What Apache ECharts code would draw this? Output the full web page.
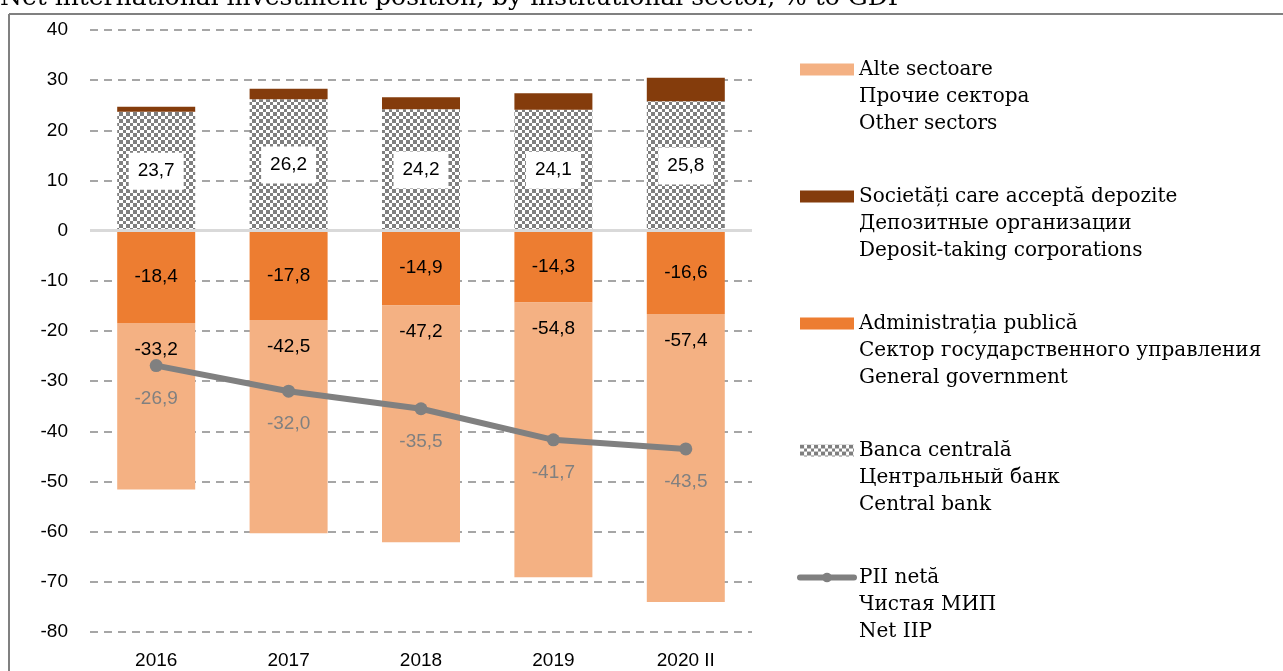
<!DOCTYPE html>
<html>
<head>
<meta charset="utf-8">
<script src="https://cdn.jsdelivr.net/npm/echarts@6/dist/echarts.min.js"></script>
<style>
  html, body { margin: 0; padding: 0; background: #fff; }
  #chart { width: 1283px; height: 671px; }
</style>
</head>
<body>
<div id="chart"></div>
<script>
// categorii / periods
var categories = ["2016", "2017", "2018", "2019", "2020 II"];
// % to GDP
var centralBank = [23.7, 26.2, 24.2, 24.1, 25.8];
var depositTaking = [1.0, 2.1, 2.4, 3.3, 4.7];
var generalGov = [-18.4, -17.8, -14.9, -14.3, -16.6];
var otherSectors = [-33.2, -42.5, -47.2, -54.8, -57.4];
var netIIP = [-26.9, -32.0, -35.5, -41.7, -43.5];

var names = [
    "Alte sectoare\nПрочие сектора\nOther sectors",
    "Societăți care acceptă depozite\nДепозитные организации\nDeposit-taking corporations",
    "Administrația publică\nСектор государственного управления\nGeneral government",
    "Banca centrală\nЦентральный банк\nCentral bank",
    "PII netă\nЧистая МИП\nNet IIP"
];

var numFont = "'Liberation Sans Narrow', 'Liberation Sans', sans-serif";
var serifFont = "'DejaVu Serif', serif";

// fundal in carouri pentru banca centrala
function checker() {
    var c = document.createElement("canvas");
    c.width = 7; c.height = 7;
    var ctx = c.getContext("2d");
    ctx.fillStyle = "#ffffff";
    ctx.fillRect(0, 0, 7, 7);
    ctx.fillStyle = "#7f7f7f";
    ctx.fillRect(0, 0, 4, 4);
    ctx.fillRect(4, 4, 3, 3);
    return c;
}

function fmt(v) {
    return v.toFixed(1).replace(".", ",");
}

var myChart = echarts.init(document.getElementById("chart"));
var option = {
    animation: false,
    title: {
        text: "Net international investment position, by institutional sector, % to GDP",
        left: 0,
        top: -14,
        padding: 0,
        textStyle: { fontFamily: serifFont, fontWeight: "normal", fontSize: 25, color: "#000" }
    },
    graphic: [
        { type: "line", shape: { x1: 9, y1: 14, x2: 1283, y2: 14 }, style: { stroke: "#808080", lineWidth: 2 } },
        { type: "line", shape: { x1: 9, y1: 14, x2: 9, y2: 671 }, style: { stroke: "#808080", lineWidth: 2 } }
    ],
    grid: { left: 90, right: 531, top: 30, bottom: 39 },
    legend: {
        orient: "vertical",
        left: 797,
        top: 2,
        padding: 0,
        itemWidth: 54,
        itemHeight: 12,
        itemGap: -8,
        data: [
            { name: names[0], icon: "rect" },
            { name: names[1], icon: "rect" },
            { name: names[2], icon: "rect" },
            { name: names[3], icon: "rect" },
            { name: names[4], itemStyle: { color: "#808080" }, lineStyle: { width: 6, cap: "round" } }
        ],
        // doua randuri goale ca iconita sa stea la primul rand
        formatter: function (name) { return "\n\n" + name; },
        textStyle: {
            fontFamily: serifFont,
            fontSize: 20,
            lineHeight: 27,
            color: "#000"
        }
    },
    xAxis: {
        type: "category",
        data: categories,
        axisLine: { show: false },
        axisTick: { show: false },
        axisLabel: { fontFamily: numFont, fontSize: 19, color: "#000", margin: 19 }
    },
    yAxis: {
        type: "value",
        min: -80,
        max: 40,
        interval: 10,
        axisLine: { show: false },
        axisTick: { show: false },
        axisLabel: { fontFamily: numFont, fontSize: 19, color: "#000", margin: 22 },
        splitLine: { lineStyle: { color: "#a6a6a6", width: 2, type: [8, 6] } }
    },
    series: [
        {
            name: names[3],
            type: "bar",
            stack: "s",
            barWidth: 78,
            data: centralBank,
            itemStyle: { color: { image: checker(), repeat: "repeat" } },
            label: {
                show: true,
                position: "inside",
                formatter: function (p) { return fmt(p.value); },
                fontFamily: numFont,
                fontSize: 19,
                color: "#000",
                backgroundColor: "#fff",
                padding: [9, 9]
            },
            markLine: {
                silent: true,
                symbol: "none",
                label: { show: false },
                lineStyle: { color: "#d9d9d9", width: 3, type: "solid" },
                data: [{ yAxis: 0 }]
            }
        },
        {
            name: names[1],
            type: "bar",
            stack: "s",
            data: depositTaking,
            itemStyle: { color: "#843c0c" }
        },
        {
            name: names[2],
            type: "bar",
            stack: "s",
            data: generalGov,
            itemStyle: { color: "#ed7d31" },
            label: {
                show: true,
                position: "inside",
                formatter: function (p) { return fmt(p.value); },
                fontFamily: numFont,
                fontSize: 19,
                color: "#000"
            }
        },
        {
            name: names[0],
            type: "bar",
            stack: "s",
            data: otherSectors,
            itemStyle: { color: "#f4b183" },
            label: {
                show: true,
                position: "insideTop",
                distance: 17,
                formatter: function (p) { return fmt(p.value); },
                fontFamily: numFont,
                fontSize: 19,
                color: "#000"
            }
        },
        {
            name: names[4],
            type: "line",
            data: netIIP,
            z: 5,
            symbol: "circle",
            symbolSize: 13,
            lineStyle: { color: "#808080", width: 6 },
            itemStyle: { color: "#808080" },
            label: {
                show: true,
                position: "bottom",
                distance: 17,
                formatter: function (p) { return fmt(p.value); },
                fontFamily: numFont,
                fontSize: 19,
                color: "#808080"
            }
        }
    ]
};
myChart.setOption(option);
</script>
</body>
</html>
